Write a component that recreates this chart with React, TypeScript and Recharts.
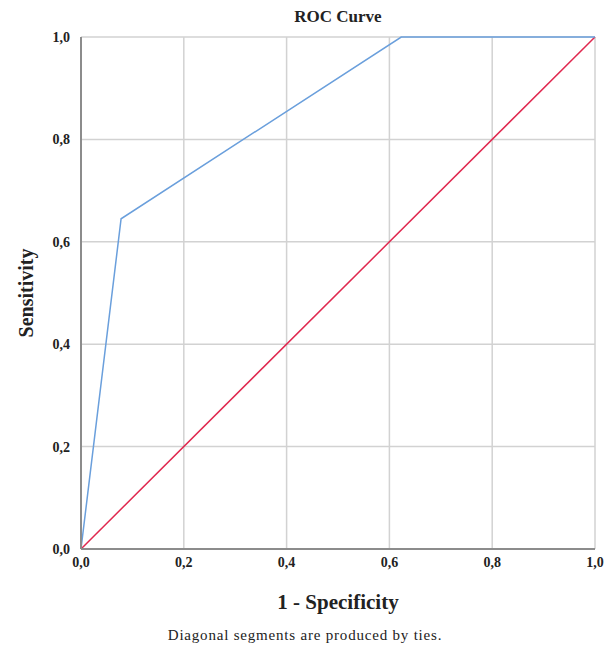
import { LineChart, Line, XAxis, YAxis, CartesianGrid, Label } from 'recharts'

const specificityTicks = [0, 0.2, 0.4, 0.6, 0.8, 1.0]
const rocX = [0, 0.078, 0.623, 1.0]
const rocY = [0, 0.645, 1.0, 1.0]
const refX = [0, 1.0]
const refY = [0, 1.0]

const rocData = rocX.map((x, i) => ({ x, y: rocY[i] }))
const refData = refX.map((x, i) => ({ x, y: refY[i] }))

const FONT = '"Liberation Serif", "Times New Roman", "DejaVu Serif", serif'
const fmt = (v: number) => v.toFixed(1).replace('.', ',')

export default function App() {
  return (
    <div style={{ position: 'absolute', left: 0, top: 0, width: 615, height: 651, background: '#fff', fontFamily: FONT }}>
      <div style={{ position: 'absolute', left: 0, width: 676, top: 7, textAlign: 'center', fontSize: 17, fontWeight: 'bold', color: '#222', fontFamily: FONT }}>
        ROC Curve
      </div>
      <LineChart width={615} height={651} data={rocData} margin={{ top: 37, right: 20, bottom: 0, left: 0 }}>
        <CartesianGrid stroke="#d2d2d2" strokeWidth={1.5} />
        <XAxis
          type="number"
          dataKey="x"
          domain={[0, 1]}
          ticks={specificityTicks}
          tickFormatter={fmt}
          interval={0}
          height={102}
          tickLine={false}
          axisLine={{ stroke: '#8c8c8c', strokeWidth: 2 }}
          tick={{ fill: '#222', fontSize: 14, fontFamily: FONT, fontWeight: 'bold' }}
          tickMargin={2}
        >
          <Label
            content={({ viewBox }: any) => (
              <text x={viewBox.x + viewBox.width / 2} y={viewBox.y + 60} textAnchor="middle" fontFamily={FONT} fontSize={21} fontWeight="bold" fill="#222">
                1 - Specificity
              </text>
            )}
          />
        </XAxis>
        <YAxis
          type="number"
          dataKey="y"
          domain={[0, 1]}
          ticks={specificityTicks}
          tickFormatter={fmt}
          interval={0}
          width={81}
          tickLine={false}
          axisLine={{ stroke: '#8c8c8c', strokeWidth: 2 }}
          tick={{ fill: '#222', fontSize: 14, fontFamily: FONT, fontWeight: 'bold' }}
          tickMargin={5}
        >
          <Label
            content={({ viewBox }: any) => {
              const cx = 26
              const cy = viewBox.y + viewBox.height / 2
              return (
                <text x={cx} y={cy} transform={`rotate(-90 ${cx} ${cy})`} textAnchor="middle" dominantBaseline="central" fontFamily={FONT} fontSize={20} fontWeight="bold" fill="#222">
                  Sensitivity
                </text>
              )
            }}
          />
        </YAxis>
        <Line data={refData} dataKey="y" type="linear" stroke="#e0284f" strokeWidth={1.5} dot={false} isAnimationActive={false} />
        <Line data={rocData} dataKey="y" type="linear" stroke="#6a9fdc" strokeWidth={1.5} dot={false} isAnimationActive={false} />
      </LineChart>
      <div style={{ position: 'absolute', left: 0, width: 610, top: 627, textAlign: 'center', fontSize: 15, letterSpacing: 0.8, color: '#222', fontFamily: FONT }}>
        Diagonal segments are produced by ties.
      </div>
    </div>
  )
}
